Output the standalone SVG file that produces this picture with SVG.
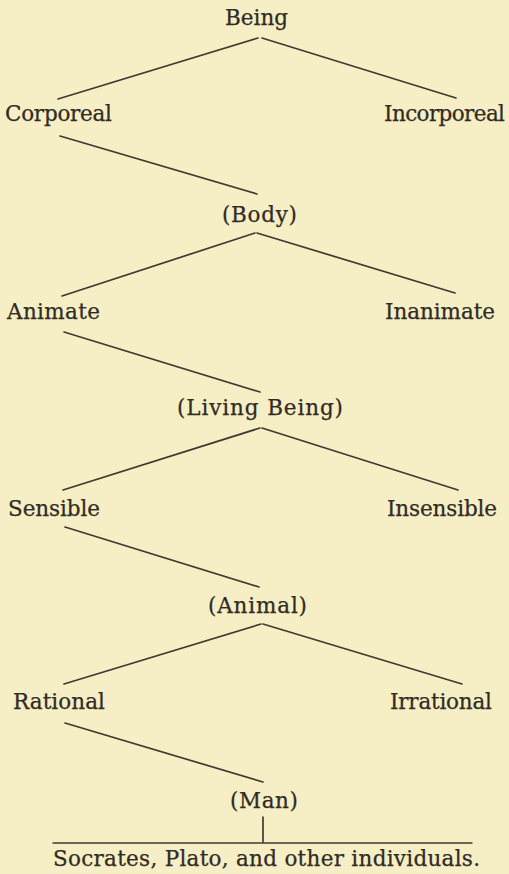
<svg xmlns="http://www.w3.org/2000/svg" width="509" height="874" viewBox="0 0 509 874">
<style>
.bg{fill:#f6eec4}
.t{font-family:"DejaVu Serif","Liberation Serif",serif;font-size:21.5px;fill:#302b24;stroke:#302b24;stroke-width:0.25}
.c line{stroke:#3f3a31;stroke-width:1.7;stroke-linecap:round}
</style>
<rect class="bg" x="0" y="0" width="509" height="874"/>
<g class="c" id="connectors">
<line x1="258" y1="38" x2="58" y2="99"/>
<line x1="262" y1="38" x2="456" y2="98"/>
<line x1="60" y1="136" x2="257" y2="194"/>
<line x1="255" y1="233" x2="62" y2="296"/>
<line x1="257" y1="233" x2="455" y2="293"/>
<line x1="64" y1="332" x2="260" y2="392"/>
<line x1="260" y1="428" x2="63" y2="490"/>
<line x1="262" y1="428" x2="458" y2="490"/>
<line x1="65" y1="527" x2="259" y2="587"/>
<line x1="261" y1="624" x2="64" y2="684"/>
<line x1="263" y1="624" x2="462" y2="684"/>
<line x1="65" y1="723" x2="263" y2="782"/>
<line x1="263" y1="817" x2="263" y2="842"/>
<line x1="53" y1="843" x2="472" y2="843" style="stroke-width:1.3"/>
</g>
<g id="being"><text class="t" x="225" y="25" textLength="63">Being</text></g>
<g id="corporeal"><text class="t" x="5" y="121" textLength="107">Corporeal</text></g>
<g id="incorporeal"><text class="t" x="384" y="121" textLength="121">Incorporeal</text></g>
<g id="body"><text class="t" x="222" y="222" textLength="75">(Body)</text></g>
<g id="animate"><text class="t" x="7" y="319" textLength="93">Animate</text></g>
<g id="inanimate"><text class="t" x="385" y="319" textLength="110">Inanimate</text></g>
<g id="living-being"><text class="t" x="177" y="415" textLength="166">(Living Being)</text></g>
<g id="sensible"><text class="t" x="8" y="516" textLength="92">Sensible</text></g>
<g id="insensible"><text class="t" x="387" y="516" textLength="110">Insensible</text></g>
<g id="animal"><text class="t" x="208" y="613" textLength="99">(Animal)</text></g>
<g id="rational"><text class="t" x="13" y="709" textLength="92">Rational</text></g>
<g id="irrational"><text class="t" x="390" y="709" textLength="102">Irrational</text></g>
<g id="man"><text class="t" x="230" y="808" textLength="68">(Man)</text></g>
<g id="individuals"><text class="t" x="53" y="866" textLength="427">Socrates, Plato, and other individuals.</text></g>
</svg>
